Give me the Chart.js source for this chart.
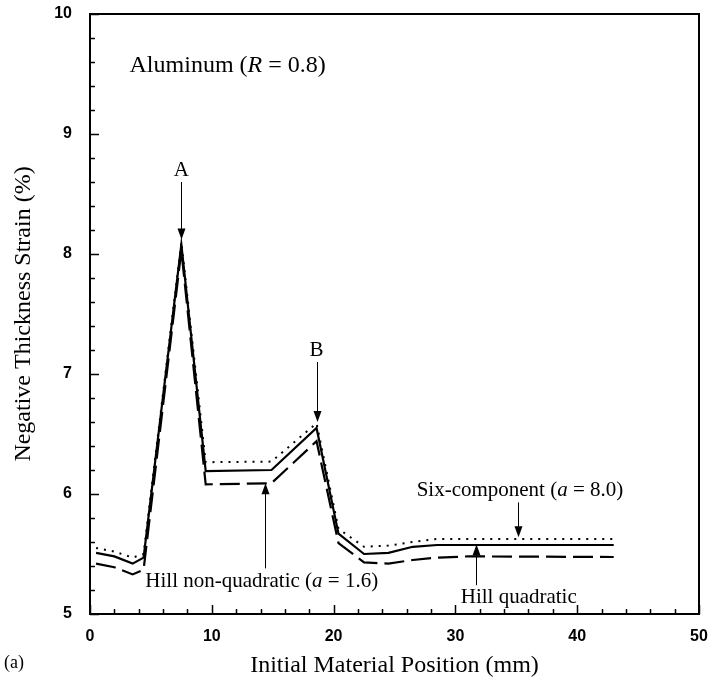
<!DOCTYPE html>
<html>
<head>
<meta charset="utf-8">
<script src="https://cdn.jsdelivr.net/npm/chart.js@4/dist/chart.umd.min.js"></script>
<style>
html,body{margin:0;padding:0;background:#fff;}
#wrap{width:712px;height:685px;position:relative;}
</style>
</head>
<body>
<div id="wrap"><canvas id="c" width="712" height="685"></canvas></div>
<script>
// positions along the sheet (mm)
const positions = [0.5, 2, 3.5, 4.4, 7.5, 9.5, 14.9, 18.6, 20.4, 22.5, 24.5, 26.5, 28.5, 31, 43];
// negative thickness strain (%)
const sixComponent = [5.55, 5.52, 5.47, 5.50, 8.10, 6.265, 6.27, 6.59, 5.71, 5.56, 5.57, 5.60, 5.625, 5.625, 5.625];
const hillQuadratic = [5.51, 5.48, 5.42, 5.47, 8.08, 6.19, 6.20, 6.55, 5.67, 5.50, 5.51, 5.56, 5.575, 5.575, 5.575];
const hillNonQuad = [5.42, 5.39, 5.33, 5.37, 8.03, 6.08, 6.09, 6.44, 5.59, 5.43, 5.42, 5.45, 5.47, 5.48, 5.475];

const xTicks = [0, 10, 20, 30, 40, 50];
const yTicks = [5, 6, 7, 8, 9, 10];

// text notes: [text, x, y]
const notes = [
  ['A', 7.5, 8.70],
  ['B', 18.6, 7.20],
  ['Six-component (a = 8.0)', 35.3, 6.03],
  ['Hill quadratic', 35.2, 5.14],
  ['Hill non-quadratic (a = 1.6)', 14.1, 5.27]
];
// arrows: [x, yFrom, yTo]
const arrows = [
  [7.5, 8.60, 8.12],
  [18.6, 7.10, 6.60],
  [35.1, 5.93, 5.64],
  [31.7, 5.24, 5.58],
  [14.4, 5.38, 6.09]
];

const pts = ys => positions.map((x, i) => ({x, y: ys[i]}));
const serif = '"Liberation Serif", "Times New Roman", serif';
const sans = '"Liberation Sans", Arial, sans-serif';

function drawRich(ctx, parts, x, y, size){
  // parts: [text, italic]
  let w = 0;
  parts.forEach(p => { ctx.font = (p[1] ? 'italic ' : '') + size + 'px ' + serif; w += ctx.measureText(p[0]).width; });
  let cx = x - w / 2;
  ctx.textAlign = 'left';
  parts.forEach(p => { ctx.font = (p[1] ? 'italic ' : '') + size + 'px ' + serif; ctx.fillText(p[0], cx, y); cx += ctx.measureText(p[0]).width; });
}

const frame = {
  id: 'frame',
  afterDraw(chart){
    const {ctx, chartArea: a, scales: {x, y}} = chart;
    ctx.save();
    ctx.strokeStyle = '#000';
    ctx.lineWidth = 2;
    ctx.strokeRect(a.left, a.top, a.right - a.left, a.bottom - a.top);
    ctx.lineWidth = 1.5;
    ctx.beginPath();
    for (let v = 0; v <= 50; v += 2) {
      const px = Math.round(x.getPixelForValue(v)) + 0.5;
      const len = v % 10 === 0 ? 9 : 5;
      ctx.moveTo(px, a.bottom); ctx.lineTo(px, a.bottom - len);
    }
    for (let k = 0; k <= 25; k++) {
      const v = 5 + k * 0.2;
      const py = Math.round(y.getPixelForValue(v)) + 0.5;
      const len = k % 5 === 0 ? 9 : 5;
      ctx.moveTo(a.left, py); ctx.lineTo(a.left + len, py);
    }
    ctx.stroke();

    // notes
    ctx.fillStyle = '#000';
    ctx.textBaseline = 'middle';
    notes.forEach(n => {
      const px = x.getPixelForValue(n[1]), py = y.getPixelForValue(n[2]);
      const m = n[0].match(/^(.*\()a( = .*)$/);
      if (m) drawRich(ctx, [[m[1], false], ['a', true], [m[2], false]], px, py, 21);
      else { ctx.font = '21px ' + serif; ctx.textAlign = 'center'; ctx.fillText(n[0], px, py); }
    });
    drawRich(ctx, [['Aluminum (', false], ['R', true], [' = 0.8)', false]], x.getPixelForValue(11.3), y.getPixelForValue(9.57), 24);
    ctx.font = '18px ' + serif; ctx.textAlign = 'left';
    ctx.fillText('(a)', 4, 663);

    // arrows
    ctx.lineWidth = 1;
    arrows.forEach(r => {
      const px = Math.round(x.getPixelForValue(r[0])) + 0.5;
      const y0 = y.getPixelForValue(r[1]), y1 = y.getPixelForValue(r[2]);
      const d = y1 > y0 ? 1 : -1;
      ctx.beginPath(); ctx.moveTo(px, y0); ctx.lineTo(px, y1 - d * 8); ctx.stroke();
      ctx.beginPath(); ctx.moveTo(px, y1); ctx.lineTo(px - 4, y1 - d * 11); ctx.lineTo(px + 4, y1 - d * 11); ctx.closePath(); ctx.fill();
    });
    ctx.restore();
  }
};

new Chart(document.getElementById('c'), {
  type: 'line',
  data: {
    datasets: [
      {label: 'Six-component (a = 8.0)', data: pts(sixComponent), borderColor: '#000', borderWidth: 2, borderDash: [2, 6], pointRadius: 0, fill: false, tension: 0},
      {label: 'Hill quadratic', data: pts(hillQuadratic), borderColor: '#000', borderWidth: 2.2, pointRadius: 0, fill: false, tension: 0},
      {label: 'Hill non-quadratic (a = 1.6)', data: pts(hillNonQuad), borderColor: '#000', borderWidth: 2.2, borderDash: [20, 7], pointRadius: 0, fill: false, tension: 0}
    ]
  },
  options: {
    responsive: false,
    animation: false,
    layout: {padding: {top: 14, right: 13, left: 0, bottom: 0}},
    plugins: {legend: {display: false}, tooltip: {enabled: false}},
    scales: {
      x: {
        type: 'linear', min: 0, max: 50,
        afterBuildTicks: s => { s.ticks = xTicks.map(v => ({value: v})); },
        afterFit: s => { s.height = 71; s.paddingLeft = 0; s.paddingRight = 0; },
        grid: {display: false, drawTicks: false},
        border: {display: false},
        ticks: {color: '#000', padding: 13, font: {family: sans, size: 16, weight: 'bold'}},
        title: {display: true, text: 'Initial Material Position (mm)', color: '#000', padding: {top: 0, bottom: 5}, font: {family: serif, size: 24}}
      },
      y: {
        type: 'linear', min: 5, max: 10,
        afterBuildTicks: s => { s.ticks = yTicks.map(v => ({value: v})); },
        afterFit: s => { s.width = 90; s.paddingTop = 0; s.paddingBottom = 0; },
        grid: {display: false, drawTicks: false},
        border: {display: false},
        ticks: {color: '#000', padding: 18, font: {family: sans, size: 16, weight: 'bold'}},
        title: {display: true, text: 'Negative Thickness Strain (%)', color: '#000', padding: {top: 9, bottom: 0}, font: {family: serif, size: 24}}
      }
    }
  },
  plugins: [frame]
});
</script>
</body>
</html>
